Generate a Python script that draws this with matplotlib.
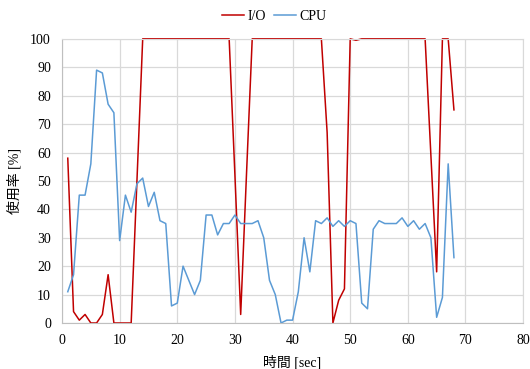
import matplotlib
matplotlib.use("Agg")
import matplotlib.pyplot as plt

plt.rcParams['font.family'] = ['Liberation Serif', 'Noto Sans CJK JP', 'DejaVu Sans']

time_sec = list(range(1, 69))
io_usage = [58, 4, 1, 3, 0, 0, 3, 17, 0, 0, 0, 0, 50, 100, 100, 100, 100, 100, 100, 100,
            100, 100, 100, 100, 100, 100, 100, 100, 100, 52, 3, 52, 100, 100, 100, 100, 100, 100, 100, 100,
            100, 100, 100, 100, 100, 67, 0, 8, 12, 100, 99.5, 100, 100, 100, 100, 100, 100, 100, 100, 100,
            100, 100, 100, 59, 18, 100, 100, 75]
cpu_usage = [11, 17, 45, 45, 56, 89, 88, 77, 74, 29, 45, 39, 49, 51, 41, 46, 36, 35, 6, 7,
             20, 15, 10, 15, 38, 38, 31, 35, 35, 38, 35, 35, 35, 36, 30, 15, 10, 0, 1, 1,
             11, 30, 18, 36, 35, 37, 34, 36, 34, 36, 35, 7, 5, 33, 36, 35, 35, 35, 37, 34,
             36, 33, 35, 30, 2, 9, 56, 23]
x_ticks = list(range(0, 81, 10))
y_ticks = list(range(0, 101, 10))

fig = plt.figure(figsize=(5.3, 3.69), dpi=100)
ax = fig.add_axes([0.117, 0.1247, 0.870, 0.770])
ax.plot(time_sec, io_usage, color='#C00000', lw=1.1, label='I/O', clip_on=False)
ax.plot(time_sec, cpu_usage, color='#5B9BD5', lw=1.1, label='CPU', clip_on=False)
ax.set_xlim(0, 80)
ax.set_ylim(0, 100)
ax.set_xticks(x_ticks)
ax.set_yticks(y_ticks)
ax.grid(True, color='#D9D9D9', lw=0.9)
ax.set_axisbelow(True)
for s in ax.spines.values():
    s.set_color('#D9D9D9')
ax.spines['bottom'].set_color('#BFBFBF')
ax.spines['left'].set_color('#BFBFBF')
ax.tick_params(length=0, labelsize=10, colors='black', pad=8)
ax.set_xlabel('時間 [sec]', fontsize=10, labelpad=6)
ax.set_ylabel('使用率 [%]', fontsize=10, labelpad=6)
ax.legend(loc='lower center', bbox_to_anchor=(0.46, 1.055), ncol=2, frameon=False,
          fontsize=10, handlelength=1.6, handletextpad=0.2, columnspacing=0.6,
          borderaxespad=0.0, borderpad=0.0)
fig.savefig('out.png', dpi=100)
